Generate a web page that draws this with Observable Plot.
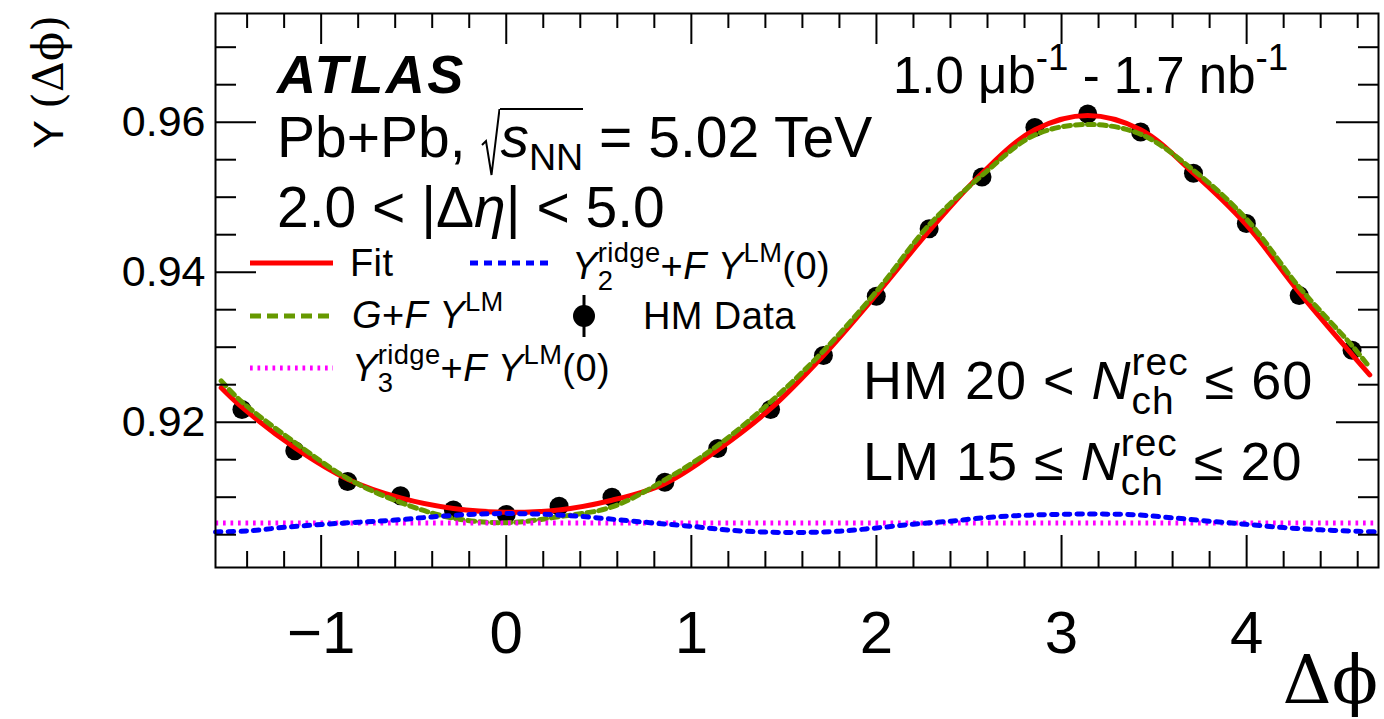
<!DOCTYPE html>
<html>
<head>
<meta charset="utf-8">
<script src="https://cdn.jsdelivr.net/npm/d3@7"></script>
<script src="https://cdn.jsdelivr.net/npm/@observablehq/plot@0.6"></script>
<style>
  html, body { margin: 0; padding: 0; background: #fff; }
  #wrap { position: relative; width: 1384px; height: 719px; font-family: "Liberation Sans", Arial, sans-serif; color: #000; }
  #wrap > svg.plot { position: absolute; left: 0; top: 0; }
  .t { position: absolute; white-space: nowrap; line-height: 1; }
  .i { font-style: italic; }
  .up { font-size: 0.72em; position: relative; top: -0.62em; }
  .st { position: relative; display: inline-block; }
  .st .dn { font-size: 0.72em; position: absolute; left: 0; top: 0.74em; }
  .rad { display: inline-block; position: relative; width: 19px; height: 0; }
  .rad svg { position: absolute; left: 0; top: -49px; }
  .ol { position: relative; }
  .ol::before { content: ""; position: absolute; left: 0; right: 0; top: 0.05em; border-top: 2px solid #000; }
  svg.over { position: absolute; left: 0; top: 0; pointer-events: none; }
</style>
</head>
<body>
<div id="wrap"></div>
<script>
// Δφ bin centres of the HM correlation function
const phiBins = [-1.4280, -1.1424, -0.8568, -0.5712, -0.2856, 0, 0.2856, 0.5712, 0.8568, 1.1424, 1.4280,
                 1.7136, 1.9992, 2.2848, 2.5704, 2.8560, 3.1416, 3.4272, 3.7128, 3.9984, 4.2840, 4.5696];
// HM data Y(Δφ)
const hmData = [0.9217, 0.9162, 0.9121, 0.9102, 0.9083, 0.9077, 0.9088, 0.9100, 0.9120, 0.9165, 0.9217,
                0.9289, 0.9368, 0.9458, 0.9527, 0.9593, 0.9611, 0.9587, 0.9532, 0.9465, 0.9369, 0.9296];

// Template fit and its G + F·Y^LM component, sampled across the fitted range
const fitPhi = [-1.540, -1.4280, -1.1424, -0.8568, -0.5712, -0.2856, 0, 0.2856, 0.5712, 0.8568, 1.1424, 1.4280,
                1.7136, 1.9992, 2.2848, 2.5704, 2.8560, 3.1416, 3.4272, 3.7128, 3.9984, 4.2840, 4.5696, 4.665];
const fitVals = [0.9246, 0.9220, 0.9166, 0.9124, 0.9099, 0.9085, 0.9080, 0.9083, 0.9096, 0.9118, 0.9163, 0.9218,
                 0.9289, 0.9370, 0.9455, 0.9532, 0.9590, 0.9609, 0.9590, 0.9532, 0.9463, 0.9373, 0.9290, 0.9263];
const gPlusFY = [0.9255, 0.9227, 0.9173, 0.9125, 0.9093, 0.9072, 0.9066, 0.9074, 0.9087, 0.9123, 0.9169, 0.9227,
                 0.9295, 0.9374, 0.9463, 0.9529, 0.9583, 0.9597, 0.9584, 0.9536, 0.9471, 0.9380, 0.9302, 0.9273];

// Y2^ridge + F·Y^LM(0)
const y2Phi = [-1.5708, -1.4, -1.2, -1.0, -0.8, -0.6, -0.4, -0.2, 0, 0.2, 0.4, 0.6, 0.8, 1.0, 1.2, 1.4, 1.6,
               1.8, 2.0, 2.2, 2.4, 2.6, 2.8, 3.0, 3.2, 3.4, 3.6, 3.8, 4.0, 4.2, 4.4, 4.6, 4.7124];
const y2Vals = [0.90537, 0.90550, 0.90598, 0.90636, 0.90666, 0.90695, 0.90737, 0.90770, 0.90782, 0.90772, 0.90745,
                0.90700, 0.90655, 0.90612, 0.90562, 0.90535, 0.90530, 0.90547, 0.90590, 0.90640, 0.90680, 0.90730,
                0.90758, 0.90772, 0.90775, 0.90765, 0.90725, 0.90680, 0.90638, 0.90595, 0.90565, 0.90545, 0.90537];

// Y3^ridge + F·Y^LM(0)
const y3Phi = [-1.5708, -0.5, 0.5, 1.5708, 2.6, 3.6, 4.7124];
const y3Vals = [0.90657, 0.90657, 0.90657, 0.90657, 0.90657, 0.90657, 0.90657];

// Axis ticks and labels
const xMajor = [-1, 0, 1, 2, 3, 4];
const xTickLabels = ["\u22121", "0", "1", "2", "3", "4"];
const xMinor = d3.range(-1.4, 4.61, 0.2).map(v => +v.toFixed(1)).filter(v => !xMajor.includes(v));
const yMajor = [0.92, 0.94, 0.96];
const yTickLabels = ["0.92", "0.94", "0.96"];
const yMinor = d3.range(0.905, 0.9701, 0.005).map(v => +v.toFixed(3)).filter(v => !yMajor.includes(v));

const colors = { fit: "#ff0000", g: "#669900", y2: "#0000ff", y3: "#ff00ff" };

const W = 1384, H = 719;
const mL = 215, mR = 6, mT = 13, mB = 152;
const plotW = W - mL - mR, plotH = H - mT - mB;

const pts = phiBins.map((x, i) => ({x, y: hmData[i]}));
const fit = fitPhi.map((x, i) => ({x, y: fitVals[i]}));
const gfy = fitPhi.map((x, i) => ({x, y: gPlusFY[i]}));
const y2 = y2Phi.map((x, i) => ({x, y: y2Vals[i]}));
const y3 = y3Phi.map((x, i) => ({x, y: y3Vals[i]}));

const chart = Plot.plot({
  width: W, height: H,
  marginLeft: mL, marginRight: mR, marginTop: mT, marginBottom: mB,
  x: { domain: [-Math.PI / 2, 3 * Math.PI / 2], axis: null },
  y: { domain: [0.900627, 0.974493], axis: null },
  style: { fontFamily: "Liberation Sans, Arial, sans-serif", background: "white", color: "black" },
  marks: [
    // data, fit and its components
    Plot.dot(pts, { x: "x", y: "y", r: 9.5, fill: "black", stroke: "none" }),
    Plot.line(fit, { x: "x", y: "y", stroke: colors.fit, strokeWidth: 5, curve: "catmull-rom" }),
    Plot.line(gfy, { x: "x", y: "y", stroke: colors.g, strokeWidth: 5, strokeDasharray: "7,5", curve: "catmull-rom" }),
    Plot.line(y3, { x: "x", y: "y", stroke: colors.y3, strokeWidth: 5, strokeDasharray: "2.7,4.8", strokeLinecap: "butt" }),
    Plot.line(y2, { x: "x", y: "y", stroke: colors.y2, strokeWidth: 5, strokeDasharray: "5.5,7.2", curve: "catmull-rom" }),
    // inward ticks on all four sides
    Plot.tickX(xMajor, { x: d => d, insetTop: plotH - 32, stroke: "black", strokeWidth: 2 }),
    Plot.tickX(xMinor, { x: d => d, insetTop: plotH - 16, stroke: "black", strokeWidth: 2 }),
    Plot.tickX(xMajor, { x: d => d, insetBottom: plotH - 31, stroke: "black", strokeWidth: 2 }),
    Plot.tickX(xMinor, { x: d => d, insetBottom: plotH - 15, stroke: "black", strokeWidth: 2 }),
    Plot.tickY(yMajor, { y: d => d, insetRight: plotW - 41, stroke: "black", strokeWidth: 2 }),
    Plot.tickY(yMinor, { y: d => d, insetRight: plotW - 21, stroke: "black", strokeWidth: 2 }),
    Plot.tickY(yMajor, { y: d => d, insetLeft: plotW - 42, stroke: "black", strokeWidth: 2 }),
    Plot.tickY(yMinor, { y: d => d, insetLeft: plotW - 20, stroke: "black", strokeWidth: 2 }),
    Plot.frame({ stroke: "black", strokeWidth: 2 }),
    // tick labels
    Plot.text(yMajor, { y: d => d, text: (d, i) => yTickLabels[i], frameAnchor: "left", dx: -10,
                        textAnchor: "end", lineAnchor: "middle", fontSize: 43, fill: "black" }),
    Plot.text(xMajor, { x: d => d, text: (d, i) => xTickLabels[i], frameAnchor: "bottom", dy: 85,
                        lineAnchor: "bottom", fontSize: 60, fill: "black" })
  ]
});
chart.classList.add("plot");
const wrap = document.getElementById("wrap");
wrap.appendChild(chart);

// Text annotations (left edge, baseline, font size)
function place(html, left, baseline, fs, extra = "") {
  const d = document.createElement("div");
  d.className = "t";
  d.style.cssText = `left:${left}px;top:${baseline - 0.8465 * fs}px;font-size:${fs}px;${extra}`;
  d.innerHTML = html;
  wrap.appendChild(d);
}
const radical = `<span class="rad"><svg width="19" height="68" viewBox="0 0 19 68"><path d="M1,37 L5,33 L10.5,67 L18.5,1" fill="none" stroke="black" stroke-width="2"/></svg></span>`;

place("ATLAS", 277, 93, 54, "font-weight:bold;font-style:italic;letter-spacing:2.6px");
place(`Pb+Pb, ${radical}<span class="ol"><span class="i">s</span><span style="font-size:0.66em;position:relative;top:0.35em">NN</span></span> = 5.02 TeV`, 277, 157, 57);
place(`2.0 &lt; |&Delta;<span class="i">&eta;</span>| &lt; 5.0`, 277, 227, 57);
place(`1.0 &mu;b<span class="up">-1</span> - 1.7 nb<span class="up">-1</span>`, 893, 93, 51);

const lfs = 38, lex = "letter-spacing:0.4px";
place("Fit", 350, 276, lfs, lex);
place(`<span class="i">G</span>+<span class="i">F</span> <span class="i">Y</span><span class="up">LM</span>`, 352, 328, lfs, lex);
place(`<span class="i">Y</span><span class="st"><span class="up">ridge</span><span class="dn">3</span></span>+<span class="i">F</span> <span class="i">Y</span><span class="up">LM</span>(0)`, 352, 381, lfs, lex);
place(`<span class="i">Y</span><span class="st"><span class="up">ridge</span><span class="dn">2</span></span>+<span class="i">F</span> <span class="i">Y</span><span class="up">LM</span>(0)`, 572, 279, lfs, lex);
place("HM Data", 643, 329, lfs, lex);

place(`HM 20 &lt; <span class="i">N</span><span class="st"><span class="up">rec</span><span class="dn">ch</span></span> &le; 60`, 863, 399, 54, "letter-spacing:1px");
place(`LM 15 &le; <span class="i">N</span><span class="st"><span class="up">rec</span><span class="dn">ch</span></span> &le; 20`, 863, 480, 54, "letter-spacing:1px");

// Legend swatches and axis titles
const ns = "http://www.w3.org/2000/svg";
const over = document.createElementNS(ns, "svg");
over.setAttribute("class", "over");
over.setAttribute("width", W);
over.setAttribute("height", H);
over.innerHTML = `
  <line x1="250" x2="333" y1="263" y2="263" stroke="${colors.fit}" stroke-width="5"/>
  <line x1="250" x2="333" y1="316" y2="316" stroke="${colors.g}" stroke-width="5" stroke-dasharray="11,6"/>
  <line x1="250" x2="333" y1="368" y2="368" stroke="${colors.y3}" stroke-width="5" stroke-dasharray="2.7,4.8"/>
  <line x1="470" x2="553" y1="263" y2="263" stroke="${colors.y2}" stroke-width="5" stroke-dasharray="8,6"/>
  <line x1="584" x2="584" y1="295" y2="337" stroke="black" stroke-width="3"/>
  <circle cx="584" cy="316" r="11" fill="black"/>
  <text transform="translate(63,15) rotate(-90)" text-anchor="end" font-size="43" font-family="Liberation Sans, Arial, sans-serif">Y <tspan font-family="DejaVu Serif, serif">(&Delta;&#x3D5;)</tspan></text>
  <text x="1378" y="703" text-anchor="end" font-size="68" font-family="DejaVu Serif, serif">&Delta;&#x3D5;</text>
`;
wrap.appendChild(over);
</script>
</body>
</html>
